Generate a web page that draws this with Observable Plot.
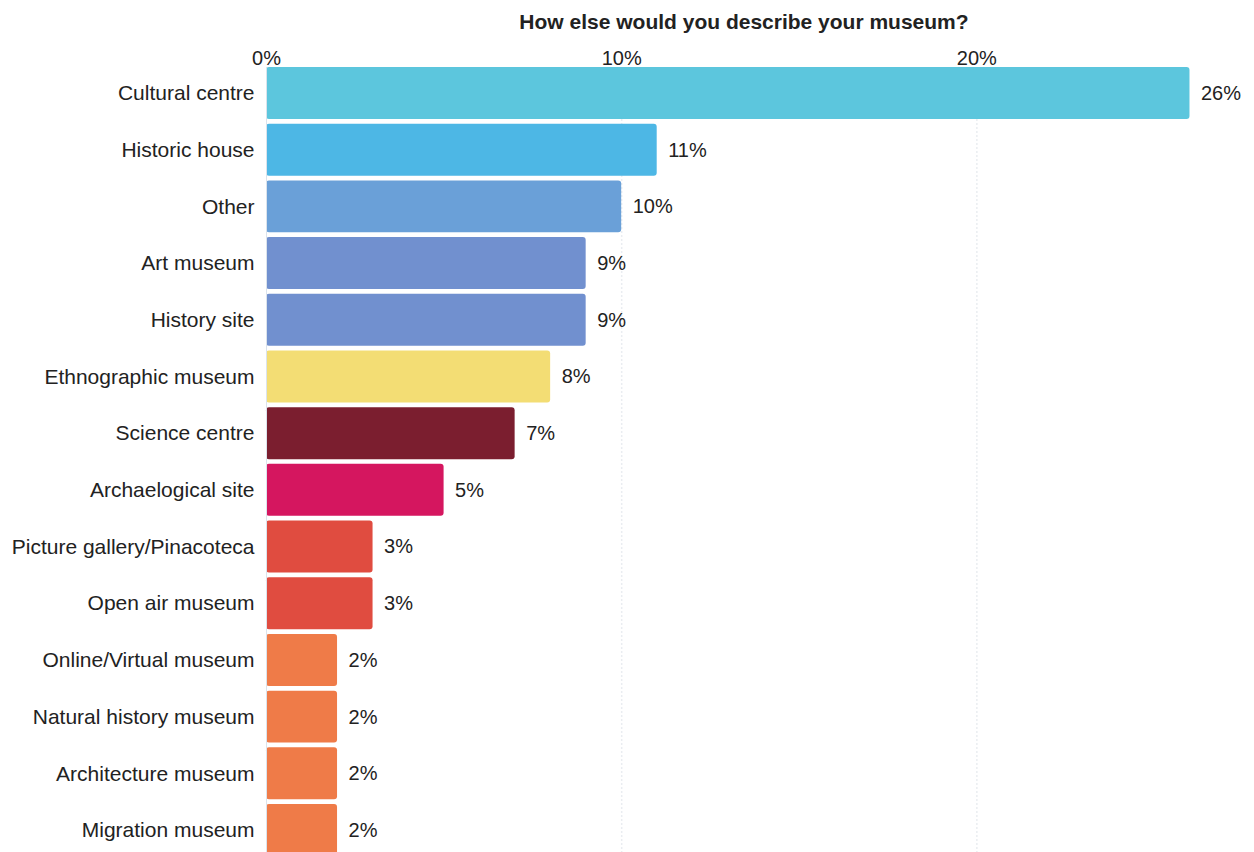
<!DOCTYPE html>
<html>
<head>
<meta charset="utf-8">
<script src="https://cdn.jsdelivr.net/npm/d3@7"></script>
<script src="https://cdn.jsdelivr.net/npm/@observablehq/plot@0.6"></script>
<style>
  html, body { margin: 0; padding: 0; background: #fff; overflow: hidden; }
  body { font-family: "Liberation Sans", Arial, Helvetica, sans-serif; color: #222; }
  #title { width: 1488px; height: 40px; line-height: 44px; text-align: center; font-weight: bold; font-size: 21px; color: #222; white-space: nowrap; }
  #chart svg { display: block; }
</style>
</head>
<body>
<div id="title">How else would you describe your museum?</div>
<div id="chart"></div>
<script>
const categories = [
  "Cultural centre", "Historic house", "Other", "Art museum", "History site",
  "Ethnographic museum", "Science centre", "Archaelogical site",
  "Picture gallery/Pinacoteca", "Open air museum", "Online/Virtual museum",
  "Natural history museum", "Architecture museum", "Migration museum"
];
const values = [26, 11, 10, 9, 9, 8, 7, 5, 3, 3, 2, 2, 2, 2];
const valueLabels = ["26%", "11%", "10%", "9%", "9%", "8%", "7%", "5%", "3%", "3%", "2%", "2%", "2%", "2%"];
const barColors = [
  "#5cc6dd", "#4db7e5", "#6aa0d8", "#7190cf", "#7190cf", "#f3dd74", "#7b1e2f",
  "#d5165f", "#e04c40", "#e04c40", "#ef7b48", "#ef7b48", "#ef7b48", "#ef7b48"
];
const xTicks = [0, 10, 20];
const gridTicks = [10, 20];

const data = categories.map((c, i) => ({ category: c, value: values[i], label: valueLabels[i], color: barColors[i] }));

const chart = Plot.plot({
  width: 1254,
  height: 816,
  marginLeft: 266,
  marginRight: 29,
  marginTop: 27,
  marginBottom: 0,
  style: { fontFamily: "'Liberation Sans', Arial, Helvetica, sans-serif", color: "#222", background: "#fff" },
  x: { domain: [0, 27], axis: null },
  y: { domain: categories, paddingInner: 0.083, paddingOuter: 0, round: false, axis: null },
  color: { type: "identity" },
  marks: [
    Plot.ruleX(gridTicks, { stroke: "#eaedf1", strokeWidth: 1.5, strokeDasharray: "2,2" }),
    Plot.barX(data, { x: "value", y: "category", fill: "color", rx: 3 }),
    Plot.ruleX([0], { stroke: "#dbe3ec", strokeWidth: 1 }),
    Plot.axisX(xTicks, { anchor: "top", label: null, tickSize: 0, tickPadding: 3, tickFormat: d => d + "%", fontSize: 20, fill: "#222" }),
    Plot.axisY({ label: null, tickSize: 0, tickPadding: 12, fontSize: 21, fill: "#222" }),
    Plot.text(data, { x: "value", y: "category", text: "label", dx: 11, textAnchor: "start", fontSize: 20, fill: "#222" })
  ]
});
document.getElementById("chart").appendChild(chart);
</script>
</body>
</html>
